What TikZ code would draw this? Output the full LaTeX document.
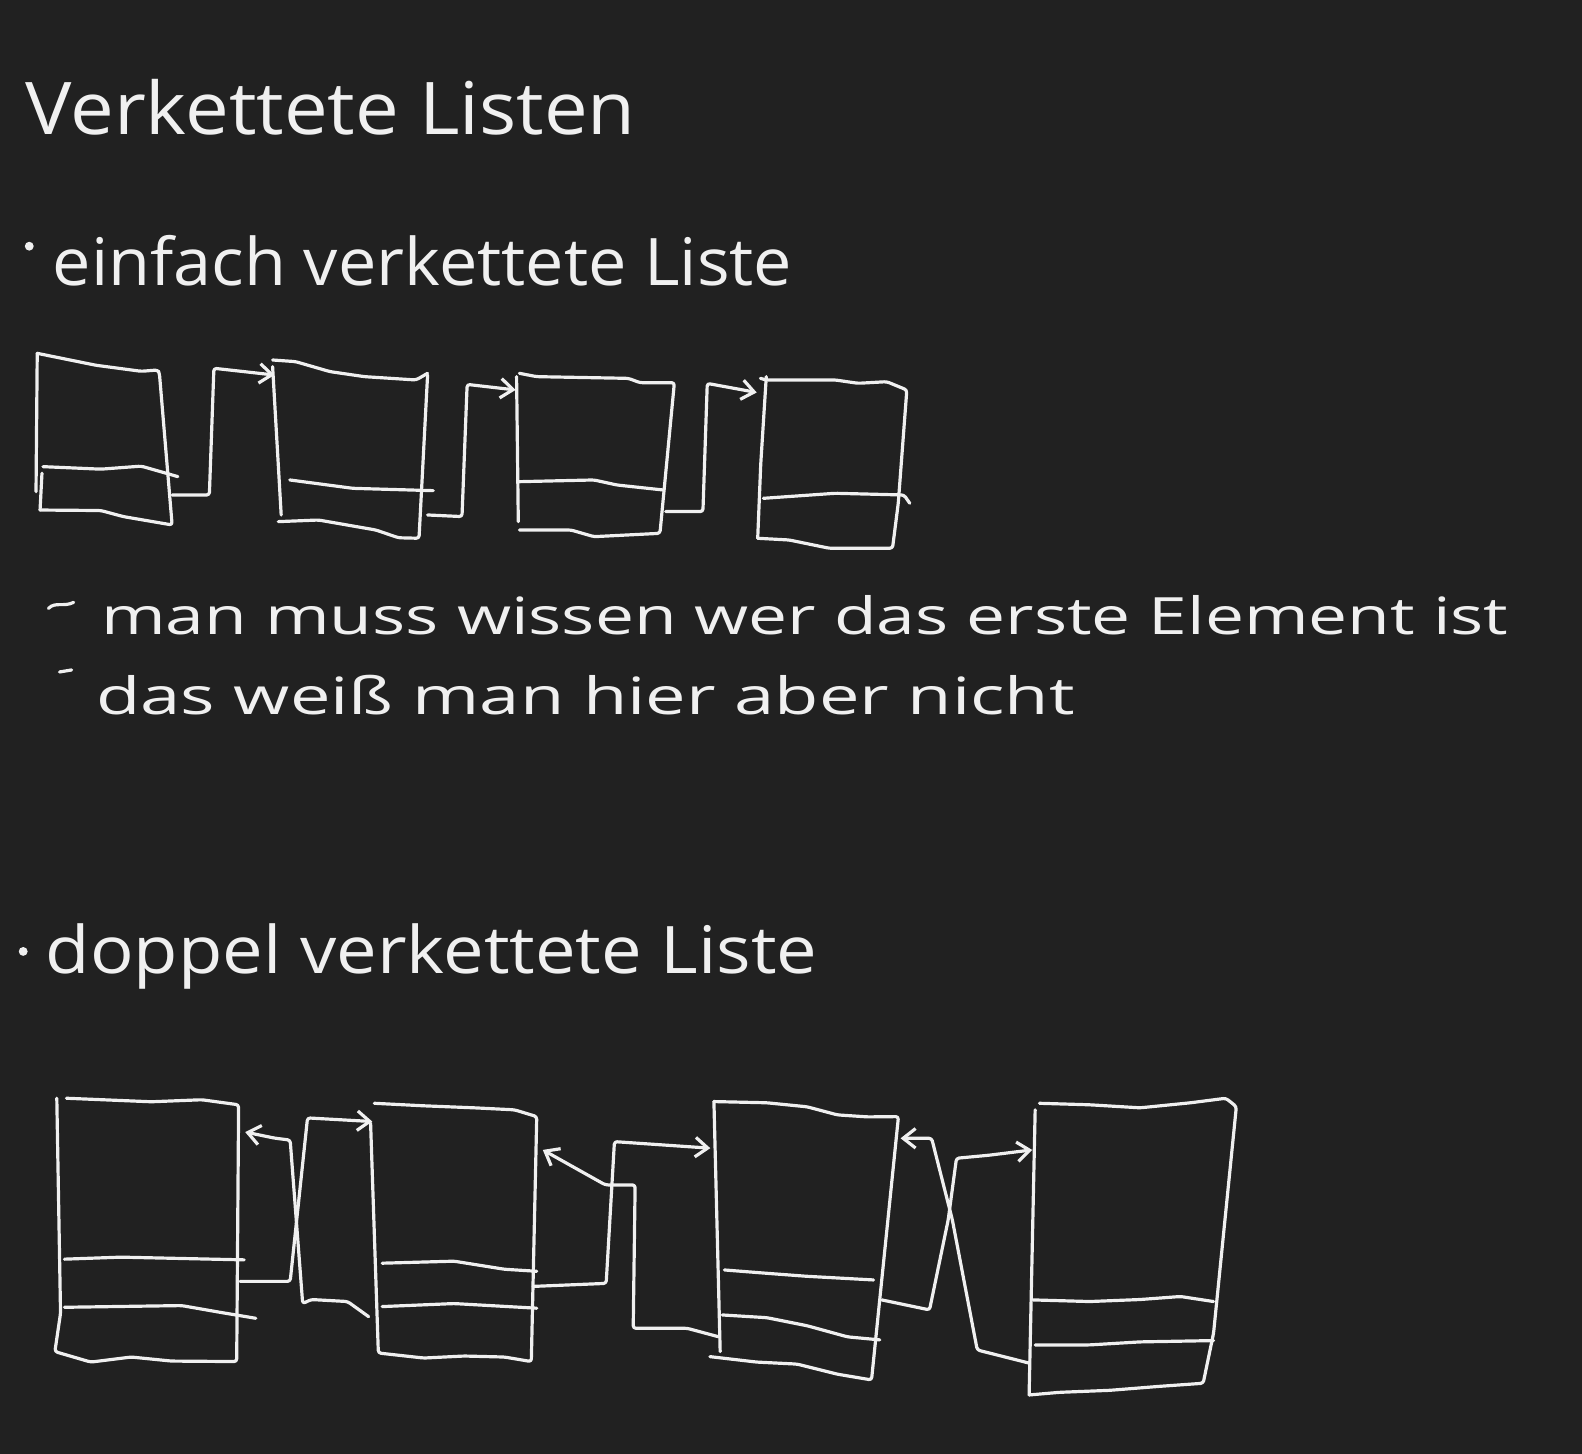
\documentclass[tikz,border=0pt]{standalone}
\usepackage{fontspec}
\usepackage{graphicx}
\setmainfont{Open Sans}
\usetikzlibrary{arrows.meta}
\definecolor{board}{HTML}{212121}
\definecolor{chalk}{HTML}{F0F0F0}
\begin{document}
\begin{tikzpicture}[x=0.02cm,y=-0.02cm,
  pen/.style={draw=chalk, line width=1.8pt, line cap=round, line join=round, rounded corners=1.5pt},
  ptr/.style={pen, -{Straight Barb[length=7pt,width=11pt]}},
  txt/.style={text=chalk, inner sep=0pt, anchor=base west},
  title/.style={font=\fontsize{41}{48}\selectfont},
  big/.style={font=\fontsize{37}{44}\selectfont},
  small/.style={font=\fontsize{29}{35}\selectfont},
  dot/.style={circle, fill=chalk, inner sep=0pt, minimum size=5pt}]
\fill[board] (0,0) rectangle (1568,1441);
\useasboundingbox (0,0) rectangle (1568,1441);

% ---------- texts ----------
\node[txt, title] (title) at (25,133) {\resizebox{12.1cm}{\height}{Verkettete Listen}};
\node[dot] (b1) at (29,244) {};
\node[txt, big] (einfach) at (52,283) {\resizebox{14.66cm}{\height}{einfach verkettete Liste}};
\draw[pen] (48,603) .. controls (55,596) and (63,602) .. (73,597);
\node[txt, small] (l1) at (100,629) {\resizebox{27.9cm}{\height}{man muss wissen wer das erste Element ist}};
\draw[pen] (59,666) -- (71,664);
\node[txt, small] (l2) at (95,708) {\resizebox{19.4cm}{\height}{das weiß man hier aber nicht}};
\node[dot] (b2) at (23,943) {};
\node[txt, big] (doppel) at (45,965) {\resizebox{15.3cm}{\height}{doppel verkettete Liste}};

% ---------- single linked list ----------
% box 1
\draw[pen] (36.9,350.2) -- (95,362) -- (140,368) -- (156.4,366.7) -- (158,370) -- (170.6,520.3) -- (122.2,512) -- (100,506) -- (39.7,505.5);
\draw[pen] (36.9,350.2) -- (35.7,487.3);
\draw[pen] (41.6,469) -- (39.7,505.5);
\draw[pen] (42.6,462.5) -- (100,465) -- (140,462) -- (176.3,472.4);
% box 2
\draw[pen] (270.2,356.8) -- (292.9,358.4) -- (327,368.3) -- (361.2,373.3) -- (412.3,376.6) -- (423.8,370);
\draw[pen] (423.8,371.7) -- (415.3,533.5) -- (395,533) -- (372.5,525.3) -- (315.7,515.4) -- (275.8,517);
\draw[pen] (270.2,363.4) -- (278.7,510.4);
\draw[pen] (287.2,475.7) -- (349.8,484) -- (429.4,486.3);
% box 3
\draw[pen] (514.8,370) -- (531.9,373.3) -- (622.9,375) -- (634.3,379.3) -- (668.4,379.3) -- (654.1,528.6) -- (588.7,531.9) -- (565.9,525.3) -- (514.8,525.3);
\draw[pen] (512,373.3) -- (513.7,517);
\draw[pen] (514.8,477.4) -- (588.7,475.7) -- (611.5,480.7) -- (657,485.6);
% box 4
\draw[pen] (753.7,375) -- (759.5,376.6) -- (827.8,376.6) -- (850.5,379.9) -- (878.9,378.3) -- (898.8,386.5) -- (890.3,498.8) -- (884.6,543.4) -- (822,543.4) -- (782.2,535.2) -- (751,533.5);
\draw[pen] (759.5,373.3) -- (754,460) -- (751,533.5);
\draw[pen] (756.6,493.9) -- (827.8,488.9) -- (896,490.6) -- (901.7,498.8);

\coordinate (s1out) at (170.6,490.6);
\coordinate (s2in)  at (272,371.7);
\coordinate (s2out) at (423.8,510.4);
\coordinate (s3in)  at (511,386.5);
\coordinate (s3out) at (659.9,507);
\coordinate (s4in)  at (750,389);
\draw[ptr] (s1out) -- (207.5,490.6) -- (212,365) -- (s2in);
\draw[ptr] (s2out) -- (457.9,512) -- (463,381) -- (s3in);
\draw[ptr] (s3out) -- (696.7,507) -- (701,380) -- (s4in);

% ---------- doubly linked list ----------
% box A
\draw[pen] (65.8,1088.5) -- (150,1092) -- (200,1090) -- (236.5,1095) -- (234.6,1349.5) -- (170,1349) -- (130,1345) -- (90,1350) -- (54.4,1339.6) -- (60,1301.6) -- (56.3,1088.5);
\draw[pen] (63.9,1248) -- (120,1246) -- (242,1248.7);
\draw[pen] (63.9,1295.7) -- (180,1294) -- (220,1301) -- (253.5,1306.6);
% box B
\draw[pen] (371,1093.5) -- (420,1096) -- (470,1098) -- (510,1100) -- (532,1106.7) -- (526.6,1349.5) -- (500,1345) -- (460,1344) -- (420,1346) -- (375,1341) -- (367.3,1113);
\draw[pen] (378.8,1252) -- (450,1250) -- (500,1258) -- (532,1260);
\draw[pen] (378.8,1295) -- (450,1292) -- (532,1296.6);
% box C
\draw[pen] (707.6,1091.8) -- (760,1093) -- (800,1097) -- (830,1105) -- (860,1107) -- (890.5,1106.7) -- (863.8,1367.7) -- (830,1362) -- (790,1352) -- (750,1350) -- (703.6,1344.6);
\draw[pen] (707.6,1091.8) -- (713.8,1339.6);
\draw[pen] (718,1258.7) -- (760,1262) -- (800,1265) -- (865.8,1268.6);
\draw[pen] (715.9,1303.3) -- (760,1306) -- (800,1314) -- (840,1325) -- (872,1328);
% box D
\draw[pen] (1030.2,1093.5) -- (1080,1095) -- (1130,1098) -- (1180,1093) -- (1215,1088.5) -- (1225.4,1096.8) -- (1202.8,1321.4) -- (1192.5,1371) -- (1150,1374) -- (1100,1378) -- (1050,1380) -- (1020,1382.6);
\draw[pen] (1026,1100) -- (1020,1382.6);
\draw[pen] (1024,1288.4) -- (1080,1290) -- (1130,1288) -- (1170,1285) -- (1202.8,1290);
\draw[pen] (1026,1333) -- (1080,1333) -- (1130,1330) -- (1202.8,1328.7);

\coordinate (Aout)  at (238,1270);
\coordinate (Ain)   at (243,1122);
\coordinate (Bin)   at (369,1111.6);
\coordinate (Bpin)  at (365.4,1305);
\coordinate (Bout)  at (528.5,1275);
\coordinate (Bpout) at (538,1139.7);
\coordinate (Cin)   at (704,1138);
\coordinate (Cpin)  at (711.8,1324.8);
\coordinate (Cout)  at (874,1288.4);
\coordinate (Cpout) at (892.6,1128.2);
\coordinate (Din)   at (1023,1139.7);
\coordinate (Dpin)  at (1020,1351);

\draw[ptr] (Aout) -- (287.6,1270) -- (304.8,1108) -- (Bin);
\draw[ptr] (Bpin) -- (344.5,1290) -- (308.5,1288) -- (300,1292) -- (287.6,1130) -- (272,1128) -- (Ain);
\draw[ptr] (Bout) -- (600.8,1272) -- (609,1131.5) -- (Cin);
\draw[ptr] (Cpin) -- (681,1316.5) -- (627.6,1316.5) -- (629.5,1174.4) -- (600,1174.4) -- (Bpout);
\draw[ptr] (Cout) -- (921.3,1298.3) -- (939.8,1209) -- (948,1148) -- (980,1145) -- (Din);
\draw[ptr] (Dpin) -- (968.6,1338) -- (943.9,1209) -- (923.4,1128.2) -- (Cpout);
\end{tikzpicture}
\end{document}
